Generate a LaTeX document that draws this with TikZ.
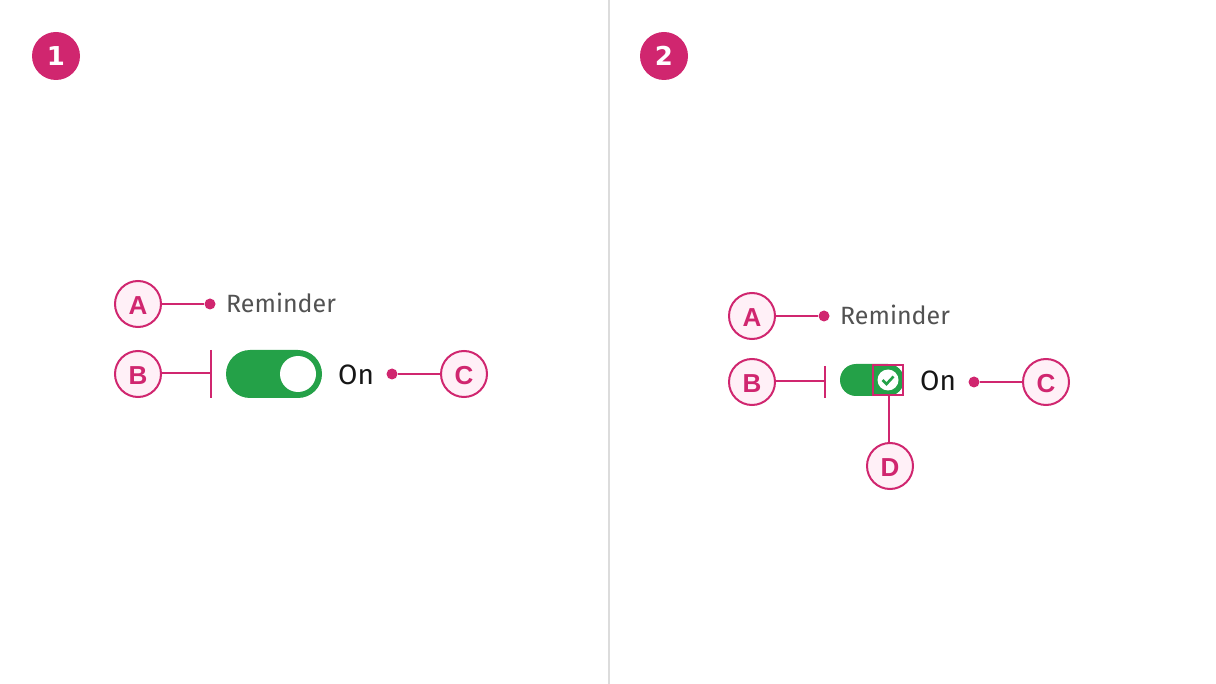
\documentclass[tikz,border=0pt]{standalone}
\usepackage{fontspec}
\setmainfont{Fira Sans}
\newfontfamily\numfont{DejaVu Sans}
\newfontfamily\letterfont{Liberation Sans}
\definecolor{callout}{HTML}{D0266F}
\definecolor{calloutfill}{HTML}{FFF0F7}
\definecolor{toggle}{HTML}{24A148}
\definecolor{divider}{HTML}{DCDCDC}
\definecolor{labelgray}{HTML}{525252}
\definecolor{ink}{HTML}{161616}
\tikzset{
  letter/.style={draw=callout,fill=calloutfill,circle,line width=2pt,minimum size=46pt,inner sep=0pt,text=callout,text height=21pt,text depth=0pt,font=\letterfont\fontsize{26}{26}\selectfont\bfseries},
  badge/.style={fill=callout,circle,minimum size=48pt,inner sep=0pt,text=white,font=\numfont\fontsize{26}{26}\selectfont\bfseries},
  dotend/.style={fill=callout,circle,minimum size=11pt,inner sep=0pt},
  lead/.style={draw=callout,line width=2pt},
  rem/.style={text=labelgray,anchor=west,inner sep=0pt,font=\fontsize{25}{25}\selectfont},
  state/.style={text=ink,anchor=west,inner sep=0pt,font=\fontsize{28}{28}\selectfont}
}
\begin{document}
\begin{tikzpicture}[x=1pt,y=-1pt]
  \useasboundingbox (0,0) rectangle (1216,684);
  \draw[divider,line width=2pt] (609,0) -- (609,684);
  % left panel
  \node[badge] (one) at (56,56) {1};
  \node[letter] (A1) at (138,304) {A};
  \node[letter] (B1) at (138,374) {B};
  \node[letter] (C1) at (464,374) {C};
  \node[dotend] (dotA1) at (210,304) {};
  \node[rem] (rem1) at (226,303) {Reminder};
  \coordinate (barB1) at (211,373);
  \draw[lead] (211,350) -- (211,398);
  \fill[toggle,rounded corners=24pt] (226,350) rectangle (322,398);
  \node[fill=white,circle,minimum size=36pt,inner sep=0pt] (knob1) at (298,374) {};
  \node[state] (on1) at (338,374.5) {On};
  \node[dotend] (dotC1) at (392,374) {};
  \draw[lead] (A1) -- (dotA1);
  \draw[lead] (barB1 -| B1.east) -- (barB1);
  \draw[lead] (dotC1) -- (C1);
  % right panel
  \node[badge] (two) at (664,56) {2};
  \node[letter] (A2) at (752,316) {A};
  \node[letter] (B2) at (752,382) {B};
  \node[letter] (C2) at (1046,382) {C};
  \node[letter] (D2) at (890,466) {D};
  \node[dotend] (dotA2) at (824,316) {};
  \node[rem] (rem2) at (840,315) {Reminder};
  \coordinate (barB2) at (825,381);
  \draw[lead] (825,366) -- (825,398);
  \fill[toggle,rounded corners=16pt] (840,364) rectangle (904,396);
  \node[fill=white,circle,minimum size=21pt,inner sep=0pt] (knob2) at (888,380) {};
  \draw[toggle,line width=2.6pt] (882.5,380) -- (886.5,384) -- (893.5,376.5);
  \node[draw=callout,line width=2pt,minimum size=30pt,inner sep=0pt] (box2) at (888,380) {};
  \node[state] (on2) at (920,380.5) {On};
  \node[dotend] (dotC2) at (974,382) {};
  \draw[lead] (A2) -- (dotA2);
  \draw[lead] (barB2 -| B2.east) -- (barB2);
  \draw[lead] (dotC2) -- (C2);
  \draw[lead] ([xshift=1pt]box2.south) -- ([xshift=1pt]box2.south |- D2.north);
\end{tikzpicture}
\end{document}
